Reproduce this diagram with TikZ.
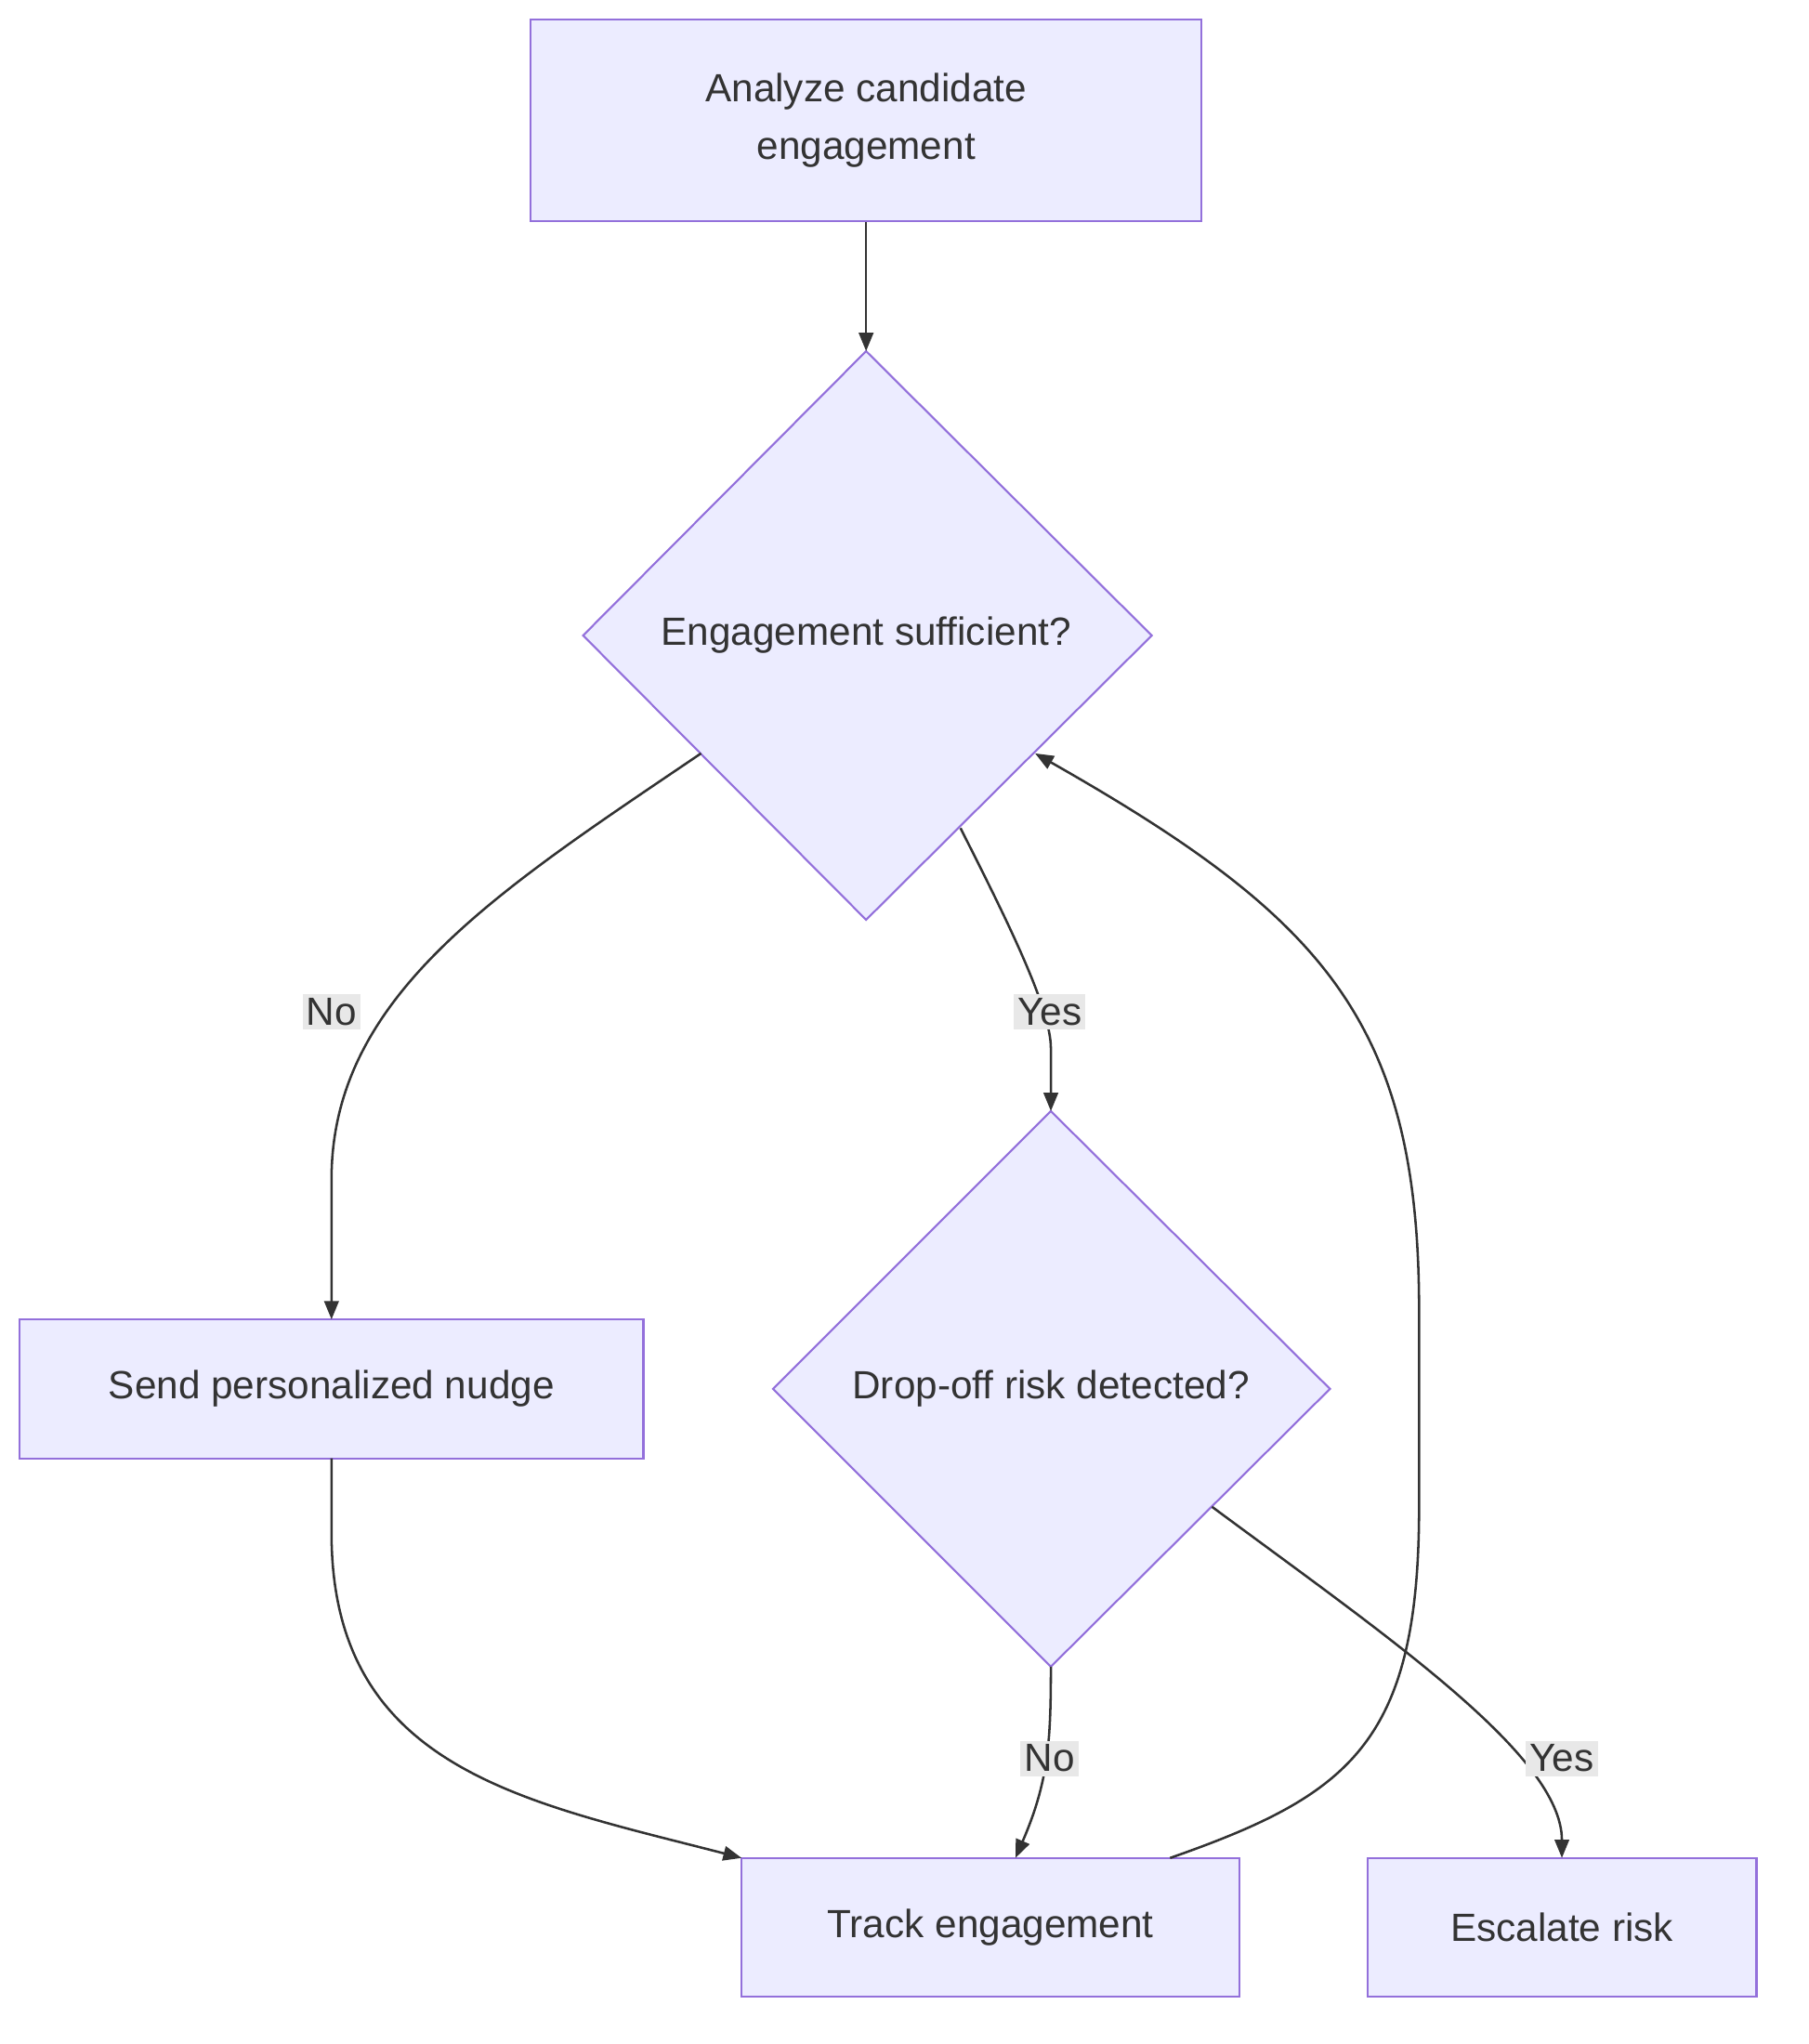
\documentclass[tikz,border=0pt]{standalone}
\usepackage{fontspec}
\setmainfont{Liberation Sans}
\usetikzlibrary{arrows.meta}
\definecolor{nf}{HTML}{ECECFF}
\definecolor{ns}{HTML}{9370DB}
\definecolor{ln}{HTML}{333333}
\definecolor{lb}{HTML}{E8E8E8}
\begin{document}
\begin{tikzpicture}[x=1pt,y=-1pt,
  every node/.style={font=\fontsize{30}{40}\selectfont, text=ln},
  box/.style={draw=ns, fill=nf, line width=1.5pt, minimum height=106pt, align=center},
  dia/.style={draw=ns, fill=nf, line width=1.5pt},
  lab/.style={fill=lb, inner sep=3pt},
  edge/.style={draw=ln, line width=1.8pt, -{Triangle[length=14pt,width=11pt]}}]
\useasboundingbox (0,0) rectangle (1380,1560);
\node[box, minimum width=512pt, minimum height=154pt] (A) at (661,92) {Analyze candidate\\[4pt]engagement};
\draw[dia] (661,268) coordinate (d1t) -- (879,485) -- (661,702) -- (445,485) -- cycle;
\node (D1) at (661,485) {Engagement sufficient?};
\draw[dia] (802,848) -- (1015,1060) -- (802,1272) -- (590,1060) -- cycle;
\node (D2) at (802,1060) {Drop-off risk detected?};
\node[box, minimum width=476pt] (N) at (253,1060) {Send personalized nudge};
\node[box, minimum width=380pt] (T) at (756,1471) {Track engagement};
\node[box, minimum width=297pt] (E) at (1192,1471) {Escalate risk};
\coordinate (d1l) at (535,575);
\coordinate (d1r) at (733,632);
\coordinate (d1ret) at (790,575);
\coordinate (d1b) at (661,268);
\coordinate (d2t) at (802,848);
\coordinate (d2b) at (802,1272);
\coordinate (d2r) at (925,1150);
\coordinate (nt) at (253,1007);
\coordinate (nb) at (253,1113);
\coordinate (tl) at (566,1418);
\coordinate (tt) at (775,1418);
\coordinate (tr) at (893,1418);
\coordinate (et) at (1192,1418);
\draw[edge] (A.south) -- (d1b);
\draw[edge] (d1l) .. controls (380,680) and (253,760) .. (253,900) -- (nt);
\node[lab] (l1) at (253,772) {No};
\draw[edge] (d1r) .. controls (770,705) and (802,770) .. (802,800) -- (d2t);
\node[lab] (l2) at (801,772) {Yes};
\draw[edge] (nb) -- (253,1170) .. controls (253,1350) and (400,1375) .. (tl);
\draw[edge] (d2b) .. controls (802,1330) and (800,1360) .. (tt);
\node[lab] (l3) at (801,1342) {No};
\draw[edge] (d2r) .. controls (1060,1250) and (1192,1340) .. (et);
\node[lab] (l4) at (1192,1342) {Yes};
\draw[edge] (tr) .. controls (1030,1370) and (1083,1330) .. (1083,1150) -- (1083,1000) .. controls (1083,780) and (1010,700) .. (d1ret);
\end{tikzpicture}
\end{document}
